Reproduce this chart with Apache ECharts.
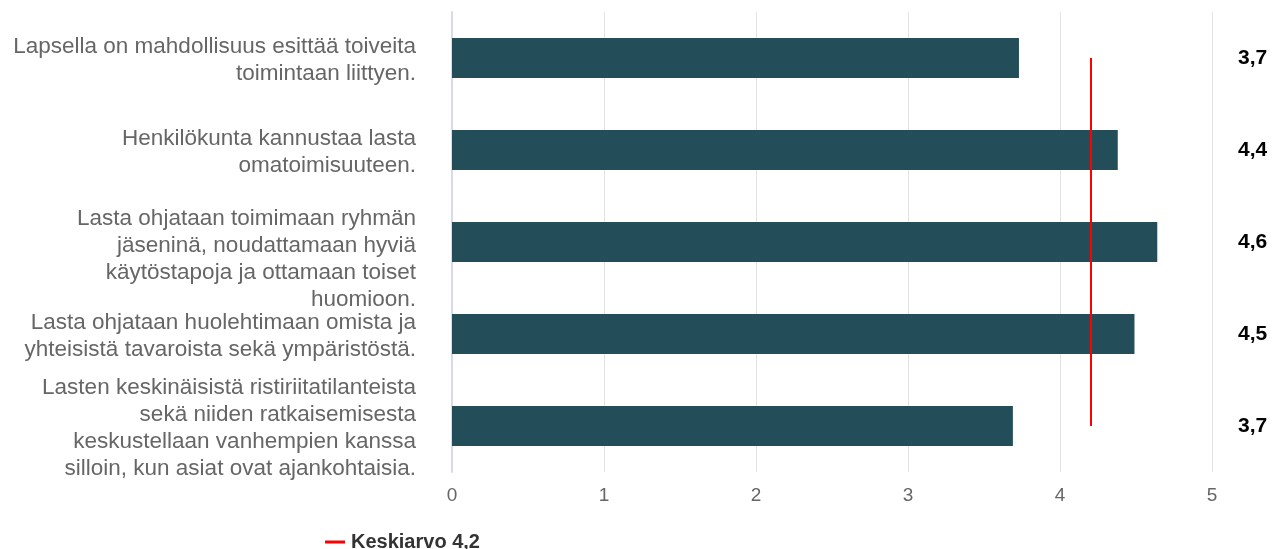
<!DOCTYPE html>
<html><head><meta charset="utf-8">
<script src="https://cdn.jsdelivr.net/npm/echarts@6/dist/echarts.min.js"></script>
<style>html,body{margin:0;padding:0;background:#fff}#c{width:1273px;height:549px}</style>
</head><body><div id="c"></div>
<script>
const categories = [
  "Lapsella on mahdollisuus esittää toiveita\ntoimintaan liittyen.",
  "Henkilökunta kannustaa lasta\nomatoimisuuteen.",
  "Lasta ohjataan toimimaan ryhmän\njäseninä, noudattamaan hyviä\nkäytöstapoja ja ottamaan toiset\nhuomioon.",
  "Lasta ohjataan huolehtimaan omista ja\nyhteisistä tavaroista sekä ympäristöstä.",
  "Lasten keskinäisistä ristiriitatilanteista\nsekä niiden ratkaisemisesta\nkeskustellaan vanhempien kanssa\nsilloin, kun asiat ovat ajankohtaisia."
];
const values = [3.73, 4.38, 4.64, 4.49, 3.69];
const meanValue = 4.2;
const meanLabel = "Keskiarvo 4,2";
const xTicks = [0, 1, 2, 3, 4, 5];

const font = "'Liberation Sans', Arial, sans-serif";
const fmt = v => v.toFixed(1).replace('.', ',');
const catsRev = categories.slice().reverse();
const valsRev = values.slice().reverse();
const labelsRev = valsRev.map(fmt);

const chart = echarts.init(document.getElementById('c'));
chart.setOption({
  animation: false,
  grid: {left: 452, right: 61, top: 12, bottom: 77, containLabel: false},
  legend: {
    bottom: -3, left: 325, padding: 0, itemGap: 10,
    data: [{name: meanLabel, icon: 'rect'}],
    itemWidth: 20, itemHeight: 3,
    textStyle: {fontFamily: font, fontSize: 20, fontWeight: 'bold', color: '#333', padding: [0, 0, 0, 1]}
  },
  xAxis: {
    type: 'value', min: xTicks[0], max: xTicks[xTicks.length - 1], interval: 1,
    axisLine: {show: false}, axisTick: {show: false},
    splitLine: {show: true, lineStyle: {color: '#e3e3e3', width: 1}},
    axisLabel: {fontFamily: font, fontSize: 19, color: '#666', margin: 14}
  },
  yAxis: [{
    type: 'category',
    data: catsRev,
    axisLine: {show: true, lineStyle: {color: '#d9d9ec', width: 2}}, axisTick: {show: false},
    axisLabel: {
      fontFamily: font, fontSize: 22.5, color: '#666', lineHeight: 27, margin: 36, align: 'right',
      padding: [4, 0, 0, 0],
      formatter: (v, i) => i === 2 ? '{g| }\n' + v : v,
      rich: {g: {lineHeight: 31, fontSize: 1}}
    }
  }, {
    type: 'category', position: 'right',
    data: labelsRev,
    axisLine: {show: false}, axisTick: {show: false},
    axisLabel: {fontFamily: font, fontSize: 21, fontWeight: 'bold', color: '#000', margin: 26, align: 'left'}
  }],
  series: [{
    type: 'bar', data: valsRev, barWidth: 40,
    itemStyle: {color: '#234d59'},
    markLine: {
      silent: true, symbol: ['none', 'none'],
      lineStyle: {color: '#ff0000', width: 2, type: 'solid'},
      label: {show: false},
      data: [[{coord: [meanValue, catsRev[catsRev.length - 1]]}, {coord: [meanValue, catsRev[0]]}]]
    }
  }, {
    type: 'line', name: meanLabel, data: [], itemStyle: {color: '#ff0000'}
  }]
});
</script></body></html>
